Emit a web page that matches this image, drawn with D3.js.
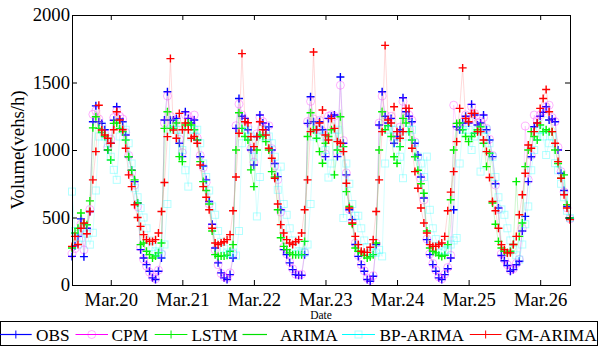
<!DOCTYPE html>
<html><head><meta charset="utf-8">
<script src="https://cdn.jsdelivr.net/npm/d3@7"></script>
<style>body{margin:0;background:#fff}svg{display:block}</style>
</head><body><svg id="c" width="599" height="347"></svg>
<script>
// ---- data (hourly, Mar.19 00:00 .. Mar.26 23:00) ----
const tickHours = [13, 37, 61, 85, 109, 133, 157];
const tickLabels = ["Mar.20", "Mar.21", "Mar.22", "Mar.23", "Mar.24", "Mar.25", "Mar.26"];
const yTicks = [0, 500, 1000, 1500, 2000];
const seriesNames = ["OBS", "CPM", "LSTM", "ARIMA", "BP-ARIMA", "GM-ARIMA"];

const obs = [212,290,360,490,210,420,545,1209,1327,1209,1197,1150,1000,1050,1220,1320,1230,1209,1111,950,850,766,607,262,
200,151,102,53,41,102,200,1222,1431,1222,1222,1234,1050,951,1283,1234,1200,1222,1074,950,882,779,619,450,
274,164,90,53,41,77,200,1160,1382,1250,1234,1150,1000,889,1100,1259,1200,1150,1172,1000,900,803,557,262,
225,164,114,77,72,72,225,1197,1394,1209,1150,1209,1150,951,1234,1250,1259,951,1541,1050,816,557,484,300,
212,151,102,41,28,65,300,1185,1431,1250,1200,1234,1050,1100,1150,1387,1283,1250,1209,1050,963,800,644,336,
225,151,102,53,41,77,120,200,557,1172,1150,1200,1250,1200,1338,1259,1185,1200,1259,1150,1074,951,750,570,
218,180,144,102,114,150,176,400,508,766,950,1172,1200,1250,1280,1320,1222,1230,1209,1000,828,700,582,496];

const cpm = [230,270,380,450,260,400,560,1264,1290,1230,1180,1120,1020,1080,1240,1290,1250,1230,1130,960,830,740,580,280,
190,140,95,60,45,110,230,1200,1400,1250,1200,1220,1080,980,1260,1250,1220,1259,1090,960,870,760,600,430,
260,150,85,60,50,90,230,1180,1340,1260,1220,1170,1010,910,1120,1240,1210,1170,1180,1010,880,780,540,280,
230,170,120,80,75,80,240,1210,1360,1230,1170,1220,1140,970,1250,1260,1250,980,1480,1070,830,560,470,310,
220,150,105,50,35,70,310,1200,1400,1260,1210,1250,1070,1110,1170,1360,1290,1259,1220,1060,950,790,630,340,
230,160,110,60,45,80,130,220,1332,1177,1170,1210,1260,1220,1320,1270,1200,1210,1240,1160,1080,960,740,560,
230,190,150,110,120,160,190,420,1177,780,960,1259,1220,1260,1290,1320,1332,1240,1210,1020,840,690,570,490];

const lstm = [274,385,420,533,454,446,623,1164,1246,1160,1130,1100,1000,926,1197,1200,1160,1136,1074,950,850,779,607,299,
311,250,225,200,215,238,311,1160,1283,1160,1160,1200,951,914,1185,1200,1185,1150,1074,914,766,700,600,400,
225,212,215,215,220,250,299,1000,1276,1160,1100,1074,853,729,1000,1111,1100,1062,1000,840,800,557,350,286,
262,238,225,225,225,225,323,1100,1276,1150,1087,988,902,1050,1100,1150,816,1000,1246,1025,692,582,450,274,
250,238,220,200,210,225,311,1000,1283,1150,1180,1100,950,902,1025,1234,1200,1136,1074,950,850,750,680,400,
274,250,238,220,212,220,299,631,1000,1197,1200,1150,1100,1062,1100,1124,1150,1172,1050,877,976,607,450,323,
274,250,238,250,300,766,360,459,877,1000,1136,1100,1074,1185,1136,1150,1136,1136,1000,900,791,816,594,496];

const arima = [320,350,400,460,420,450,600,900,1200,1220,1180,1130,1050,1000,1150,1250,1230,1180,1100,980,860,760,620,400,
290,250,220,200,210,250,350,900,1300,1250,1200,1180,1050,980,1180,1220,1200,1180,1080,950,820,720,600,450,
300,240,220,210,220,260,350,900,1280,1230,1180,1120,950,850,1050,1180,1180,1130,1100,980,850,700,500,350,
280,240,220,210,210,240,350,950,1300,1220,1150,1150,1080,980,1150,1200,1200,1000,1300,1050,820,620,480,350,
270,230,210,200,200,230,380,950,1320,1230,1180,1200,1050,1050,1120,1280,1250,1200,1150,1020,900,760,600,400,
280,240,220,210,200,230,280,450,850,1150,1180,1200,1220,1180,1250,1220,1180,1180,1200,1100,1000,880,700,520,
320,260,230,220,230,280,350,550,850,1000,1100,1150,1180,1200,1230,1250,1220,1180,1150,1000,850,730,600,500];

const bpArima = [692,400,300,350,420,380,299,387,700,1100,1180,1100,1050,950,853,779,1100,1180,1150,1050,900,717,650,570,
500,420,330,280,250,240,225,300,600,1150,1200,1150,1150,1000,850,729,1100,1150,1150,1050,900,800,700,582,
520,400,320,270,240,230,240,218,400,1050,1180,1150,1100,950,508,800,1100,1150,1100,1050,950,705,877,600,
520,420,330,280,250,240,240,300,600,1100,1180,1150,1100,1000,796,900,1100,1150,1000,496,900,750,600,513,
513,420,330,280,250,240,240,260,212,900,1150,1200,1150,1050,950,791,1100,1200,1150,1050,951,900,800,951,
557,420,340,290,260,250,260,300,330,348,900,1150,1180,1150,1000,1100,1150,840,1100,1150,1050,950,800,650,
560,520,420,330,260,220,188,300,450,582,850,1000,1100,1150,1100,963,1050,1100,902,850,750,650,550,496];

const gmArima = [286,360,300,420,459,380,545,779,988,1332,1148,1111,1087,1050,1150,1283,1222,1150,1013,816,729,594,500,434,
373,336,323,323,336,385,545,759,1099,1677,1148,1087,1271,1150,1200,1150,1087,1100,1050,889,729,650,557,420,
311,299,311,320,336,373,550,800,1124,1714,1209,1202,1099,1025,1099,1209,1150,1111,1013,939,791,600,447,385,
336,311,300,320,336,385,557,779,1136,1726,1150,1200,1296,1111,1074,1234,1160,1062,1050,988,754,570,459,360,
299,250,242,242,280,336,545,779,1136,1775,1222,1200,1320,1136,1087,1136,1308,1308,1013,840,717,570,459,385,
299,286,286,300,311,360,550,688,840,1062,1308,1608,1234,1209,1271,1271,1136,1136,1074,988,796,619,550,420,
299,262,238,238,300,360,520,668,828,1037,1013,1136,1200,1308,1382,1448,1283,1136,1050,914,791,668,570,484];

// ---- styles ----
const FONT = "'Liberation Serif'";
const AXIS_FS = "18.7px", LEG_FS = "17.3px";
const styles = [
  {data: obs,     color: "#0000ff", lineColor: "#7070d0", marker: "plus"},
  {data: cpm,     color: "#ff00ff", lineColor: "#ff80ff", marker: "circle"},
  {data: lstm,    color: "#00f000", lineColor: "#60e060", marker: "plus"},
  {data: arima,   color: "#00e000", lineColor: "#80f080", marker: "none"},
  {data: bpArima, color: "#00ffff", lineColor: "#70ffff", marker: "square"},
  {data: gmArima, color: "#ff0000", lineColor: "#ff8080", marker: "plus"}
];

const svg = d3.select("#c");
svg.append("rect").attr("width", 599).attr("height", 347).attr("fill", "#fff");

const x = d3.scaleLinear().domain([0, 167]).range([72, 570]);
const y = d3.scaleLinear().domain([0, 2000]).range([285, 15]);

function drawMarker(g, type, color, cx, cy, op, sw) {
  if (type === "plus") {
    g.append("path").attr("d", `M${cx-4},${cy}H${cx+4}M${cx},${cy-4}V${cy+4}`)
      .attr("stroke", color).attr("stroke-width", sw || 1.4).attr("fill", "none").attr("opacity", op);
  } else if (type === "circle") {
    g.append("circle").attr("cx", cx).attr("cy", cy).attr("r", 4)
      .attr("stroke", color).attr("stroke-width", 1).attr("fill", "none").attr("opacity", op);
  } else if (type === "square") {
    g.append("rect").attr("x", cx-3.5).attr("y", cy-3.5).attr("width", 7).attr("height", 7)
      .attr("stroke", color).attr("stroke-width", 1).attr("fill", "none").attr("opacity", op);
  }
}

const plot = svg.append("g");
const line = d3.line().x((d, i) => x(i)).y(d => y(d));
styles.forEach(s => {
  const g = plot.append("g");
  g.append("path").datum(s.data).attr("d", line)
    .attr("fill", "none").attr("stroke", s.lineColor).attr("stroke-width", 1).attr("stroke-opacity", 0.3);
  const op = (s.marker === "circle" || s.marker === "square") ? 0.3 : 1;
  s.data.forEach((d, i) => drawMarker(g, s.marker, s.color, x(i), y(d), op));
});

// ---- axes ----
function styleAxis(g) {
  g.select(".domain").remove();
  g.selectAll("line").attr("stroke", "#000");
  g.selectAll("text").attr("fill", "#000").style("font-family", FONT).style("font-size", AXIS_FS);
}
svg.append("g").attr("transform", "translate(0,285)")
  .call(d3.axisBottom(x).tickValues(tickHours).tickFormat((d, i) => tickLabels[i]).tickSizeInner(-5).tickSizeOuter(0).tickPadding(8))
  .call(styleAxis);
svg.append("g").attr("transform", "translate(0,15)")
  .call(d3.axisTop(x).tickValues(tickHours).tickFormat("").tickSizeInner(-5).tickSizeOuter(0))
  .call(styleAxis);
svg.append("g").attr("transform", "translate(72,0)")
  .call(d3.axisLeft(y).tickValues(yTicks).tickFormat(d3.format("d")).tickSizeInner(-5).tickSizeOuter(0).tickPadding(2))
  .call(styleAxis);
svg.append("g").attr("transform", "translate(570,0)")
  .call(d3.axisRight(y).tickValues(yTicks).tickFormat("").tickSizeInner(-5).tickSizeOuter(0))
  .call(styleAxis);

svg.append("rect").attr("x", 72.5).attr("y", 15.5).attr("width", 498).attr("height", 270)
  .attr("fill", "none").attr("stroke", "#000").attr("stroke-width", 1);

svg.append("text").attr("transform", "translate(23.5,150) rotate(-90)")
  .attr("text-anchor", "middle").style("font-family", FONT).style("font-size", AXIS_FS).text("Volume(vehs/h)");
svg.append("text").attr("x", 321).attr("y", 319).attr("text-anchor", "middle")
  .style("font-family", FONT).style("font-size", "11.5px").text("Date");

// ---- legend ----
const legendPos = [
  {x0: 0,     x1: 31.7,  tx: 36},
  {x0: 75.5,  x1: 108,   tx: 111.6},
  {x0: 154.7, x1: 187.4, tx: 191.5},
  {x0: 242.5, x1: 267,   tx: 280},
  {x0: 342,   x1: 375,   tx: 379.6},
  {x0: 469.8, x1: 501.5, tx: 505.5}
];
const lg = svg.append("g");
lg.append("rect").attr("x", 0.5).attr("y", 321.5).attr("width", 597).attr("height", 24)
  .attr("fill", "#fff").attr("stroke", "#000").attr("stroke-width", 1);
seriesNames.forEach((name, i) => {
  const p = legendPos[i], s = styles[i];
  lg.append("line").attr("x1", p.x0).attr("x2", p.x1).attr("y1", 334.5).attr("y2", 334.5)
    .attr("stroke", s.color).attr("stroke-width", 1.2);
  const op = (s.marker === "circle" || s.marker === "square") ? 0.3 : 1;
  drawMarker(lg, s.marker, s.color, (p.x0 + p.x1) / 2, 334.5, op, 1);
  lg.append("text").attr("x", p.tx).attr("y", 341).style("font-family", FONT).style("font-size", LEG_FS).text(name);
});
</script></body></html>
